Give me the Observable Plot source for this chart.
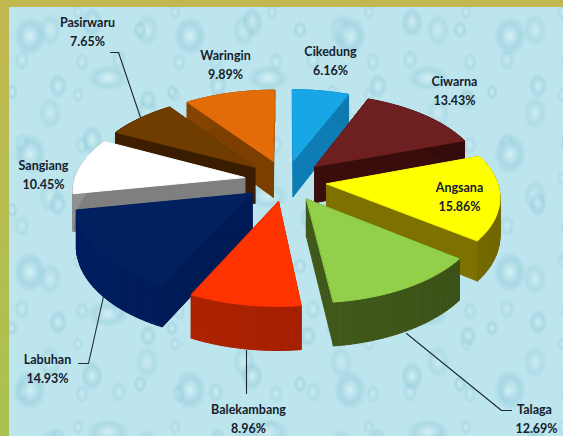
<!DOCTYPE html>
<html>
<head>
<meta charset="utf-8">
<script src="https://cdn.jsdelivr.net/npm/d3@7"></script>
<script src="https://cdn.jsdelivr.net/npm/@observablehq/plot@0.6"></script>
<style>
html,body{margin:0;padding:0;background:#bfe6ef;}
#frame{position:relative;width:563px;height:436px;overflow:hidden;
  background-color:#bde5ee;
  background-image:
    radial-gradient(ellipse 16px 20px at 30px 36px, rgba(235,250,252,.5) 0, rgba(140,200,216,.45) 62%, rgba(140,200,216,.2) 88%, transparent 100%),
    radial-gradient(ellipse 11px 15px at 92px 22px, rgba(235,250,252,.4) 0, rgba(140,200,216,.45) 65%, rgba(140,200,216,.15) 90%, transparent 100%),
    radial-gradient(ellipse 21px 13px at 108px 78px, rgba(235,250,252,.5) 0, rgba(145,203,218,.42) 65%, rgba(145,203,218,.15) 90%, transparent 100%),
    radial-gradient(ellipse 9px 13px at 58px 86px, rgba(235,250,252,.35) 0, rgba(140,200,216,.42) 65%, transparent 100%),
    radial-gradient(ellipse 7px 9px at 140px 30px, rgba(235,250,252,.3) 0, rgba(140,200,216,.4) 65%, transparent 100%),
    radial-gradient(ellipse 6px 8px at 12px 92px, rgba(235,250,252,.3) 0, rgba(140,200,216,.4) 65%, transparent 100%),
    radial-gradient(ellipse 9px 11px at 148px 100px, rgba(235,250,252,.3) 0, rgba(140,200,216,.4) 65%, transparent 100%),
    radial-gradient(ellipse 12px 17px at 50px 30px, rgba(235,250,252,.3) 0, rgba(145,203,218,.32) 65%, transparent 100%),
    radial-gradient(ellipse 8px 11px at 22px 60px, rgba(235,250,252,.25) 0, rgba(145,203,218,.32) 65%, transparent 100%),
    radial-gradient(ellipse 6px 8px at 78px 12px, rgba(235,250,252,.25) 0, rgba(145,203,218,.32) 65%, transparent 100%),
    radial-gradient(ellipse 7px 10px at 82px 62px, rgba(235,250,252,.25) 0, rgba(145,203,218,.32) 65%, transparent 100%);
  background-size:160px 118px,160px 118px,160px 118px,160px 118px,160px 118px,160px 118px,160px 118px,97px 83px,97px 83px,97px 83px,97px 83px;
}
#top{position:absolute;left:0;top:0;width:563px;height:7px;background:#c1b84f;}
#left{position:absolute;left:0;top:0;width:9px;height:436px;background:linear-gradient(#c1b84f,#a9c24f);}
#chart{position:absolute;left:0;top:0;}
#chart svg{background:transparent;display:block;}
</style>
</head>
<body>
<div id="frame"><div id="chart"></div><div id="top"></div><div id="left"></div></div>
<script>
// Chart values
const categories = ["Cikedung","Ciwarna","Angsana","Talaga","Balekambang","Labuhan","Sangiang","Pasirwaru","Waringin"];
const shares     = [6.16,13.43,15.86,12.69,8.96,14.93,10.45,7.65,9.89];
const topColors  = ["#17a7e6","#6e2020","#ffff00","#92d04a","#ff3300","#002060","#ffffff","#6f3d00","#e36c09"];
const sideColors = ["#0f7db5","#3a0d0d","#7d7200","#40591a","#a32000","#001a55","#7f7f7f","#3a1c00","#7c3f00"];

// Projection of the tilted, exploded pie
const view = {cx:285, cy:180, R:170, K:85, p:0.13, depth:37, explode:0.245};
function project(u, v, z) {
  const s = 1 / (1 - view.p * v);
  return {x: view.cx + view.R * u * s, y: view.cy + view.K * v * s + z * view.depth * s};
}
const arcs = d3.pie().sort(null).value(d => d)(shares);
const polys = [];
const slices = arcs.map((a, i) => {
  const mid = (a.startAngle + a.endAngle) / 2;
  const ou = view.explode * Math.sin(mid), ov = -view.explode * Math.cos(mid);
  return {i, a, ou, ov, mid, order: ov};
}).sort((p, q) => p.order - q.order);

slices.forEach(({i, a, ou, ov}) => {
  const name = categories[i];
  const rim = (t) => [ou + Math.sin(t), ov - Math.cos(t)];
  const add = (id, fill, pts) => pts.forEach(p => polys.push({id, fill, x: p.x, y: p.y}));
  const n = 28;
  const thetas = d3.range(n + 1).map(k => a.startAngle + (a.endAngle - a.startAngle) * k / n);
  const side = sideColors[i];
  // radial walls
  for (const [w, t] of [["s", a.startAngle], ["e", a.endAngle]]) {
    const [u, v] = rim(t);
    add(name + w, side, [project(ou, ov, 0), project(u, v, 0), project(u, v, 1), project(ou, ov, 1)]);
  }
  // outer wall in small shaded strips
  const shade = d3.interpolateRgb(d3.color(side).brighter(0.35), d3.color(side).darker(0.3));
  for (let k = 0; k < n; k++) {
    const [u0, v0] = rim(thetas[k + 1]), [u1, v1] = rim(thetas[k]);
    const tone = shade(Math.max(0, Math.min(1, (Math.sin((thetas[k] + thetas[k + 1]) / 2) + 1) / 2)));
    add(name + "o" + k, tone, [project(u0, v0, 0), project(u1, v1, 0), project(u1, v1, 1), project(u0, v0, 1)]);
  }
  // top face
  add(name + "t", topColors[i], [project(ou, ov, 0), ...thetas.map(t => project(...rim(t), 0))]);
});

// Annotation layout
const labelAt = {
  Cikedung:[330,51], Ciwarna:[454,81], Angsana:[459,187], Talaga:[534,409], Balekambang:[248,409],
  Labuhan:[47,359], Sangiang:[43,165], Pasirwaru:[87,22], Waringin:[225,55]
};
const leaders = {
  Pasirwaru:[[110,52],[118,52],[140,117]],
  Labuhan:[[78,363],[88,363],[103,296]],
  Balekambang:[[246,350],[246,393]],
  Talaga:[[406,333],[501,410],[511,410]]
};
const lineGap = 19;
const labelRows = categories.flatMap((c, i) => [
  {x: labelAt[c][0], y: labelAt[c][1], t: c},
  {x: labelAt[c][0] + (c === "Talaga" ? 2 : 0), y: labelAt[c][1] + lineGap, t: shares[i].toFixed(2) + "%"}
]);
const leaderRows = Object.entries(leaders).flatMap(([c, pts]) => pts.map(([x, y]) => ({c, x, y})));

const chart = Plot.plot({
  width: 563, height: 436,
  marginTop: 0, marginRight: 0, marginBottom: 0, marginLeft: 0,
  x: {domain: [0, 563], range: [0, 563], axis: null},
  y: {domain: [0, 436], range: [0, 436], axis: null},
  style: {background: "transparent"},
  marks: [
    Plot.line(polys, {x: "x", y: "y", z: "id", fill: "fill", stroke: "fill", strokeWidth: 1, curve: "linear-closed"}),
    Plot.line(leaderRows, {x: "x", y: "y", z: "c", stroke: "#1f2a30", strokeWidth: 1.1}),
    Plot.text(labelRows, {x: "x", y: "y", text: "t", fontSize: 12.5, fontWeight: 700, fontFamily: "Lato", fill: "#14202c", textAnchor: "middle"})
  ]
});
document.getElementById("chart").appendChild(chart);
</script>
</body>
</html>
